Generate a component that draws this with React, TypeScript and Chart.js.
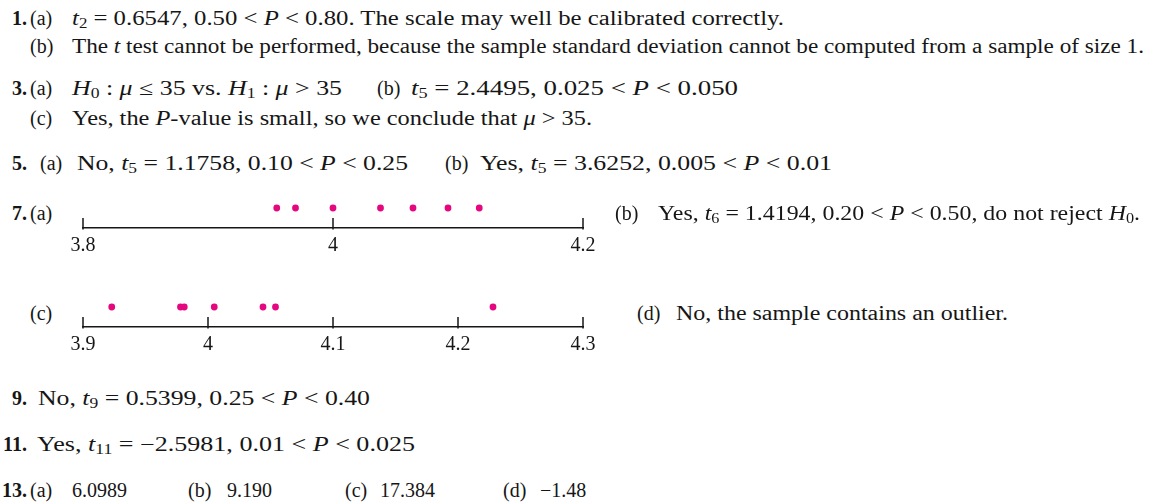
import React, { useEffect, useLayoutEffect, useRef } from "react";
import { Chart, registerables } from "chart.js";

Chart.register(...registerables);

// ---- Data ----
const plotAValues = [3.955, 3.97, 4.0, 4.038, 4.064, 4.092, 4.117];
const plotATicks = [3.8, 4.0, 4.2];
const plotATickLabels = ["3.8", "4", "4.2"];
const plotAMin = 3.8;
const plotAMax = 4.2;

const plotCValues = [3.923, 3.978, 3.981, 4.005, 4.044, 4.054, 4.228];
const plotCTicks = [3.9, 4.0, 4.1, 4.2, 4.3];
const plotCTickLabels = ["3.9", "4", "4.1", "4.2", "4.3"];
const plotCMin = 3.9;
const plotCMax = 4.3;

const DOT_LEVEL = 1;

// ---- Styles ----
const FONT = '"Liberation Serif", "Times New Roman", serif';
const INK = "#161616";
const PINK = "#e5077f";
const FS = 20;
const BASE = 16.75; // baseline offset inside a 20px line box

const tickMarks = {
  id: "tickMarks",
  afterDraw(chart: any) {
    const xs = chart.scales.x;
    const ctx = chart.ctx;
    const y0 = xs.top;
    ctx.save();
    ctx.strokeStyle = INK;
    ctx.lineWidth = 1.5;
    for (const t of xs.ticks) {
      const px = xs.getPixelForValue(t.value);
      ctx.beginPath();
      ctx.moveTo(px, y0 + 1.5);
      ctx.lineTo(px, y0 - 10);
      ctx.stroke();
    }
    ctx.restore();
  },
};

function DotPlot(props: {
  values: number[];
  ticks: number[];
  labels: string[];
  min: number;
  max: number;
  left: number;
  top: number;
}) {
  const ref = useRef<HTMLCanvasElement>(null);
  useEffect(() => {
    const canvas = ref.current;
    if (!canvas) return;
    const chart = new Chart(canvas, {
      type: "scatter",
      data: {
        datasets: [
          {
            data: props.values.map((v) => ({ x: v, y: DOT_LEVEL })),
            pointRadius: 3.4,
            pointHoverRadius: 3.4,
            backgroundColor: PINK,
            borderWidth: 0,
          },
        ],
      },
      options: {
        responsive: false,
        animation: false,
        devicePixelRatio: 1,
        events: [],
        layout: { padding: { left: 40, right: 40, top: 8, bottom: 5 } },
        plugins: { legend: { display: false }, tooltip: { enabled: false } },
        scales: {
          x: {
            type: "linear",
            min: props.min,
            max: props.max,
            afterBuildTicks: (s: any) => {
              s.ticks = props.ticks.map((v) => ({ value: v }));
            },
            ticks: {
              callback: (_v: any, i: number) => props.labels[i],
              color: INK,
              font: { family: FONT, size: FS },
              padding: 6,
              maxRotation: 0,
              autoSkip: false,
            },
            grid: { display: false, drawTicks: false },
            border: { display: true, color: INK, width: 1.5 },
          },
          y: { display: false, min: 0, max: 2 },
        },
      } as any,
      plugins: [tickMarks],
    });
    return () => chart.destroy();
  }, []);
  return (
    <canvas
      ref={ref}
      width={580}
      height={89}
      style={{ position: "absolute", left: props.left, top: props.top, width: 580, height: 89 }}
    />
  );
}

const I = ({ children }: any) => <i>{children}</i>;
const Sub = ({ children }: any) => (
  <sub style={{ fontSize: "0.68em", verticalAlign: "-0.25em", lineHeight: 0 }}>{children}</sub>
);

function Seg(props: { x: number; y: number; w?: number; end?: boolean; bold?: boolean; children: any }) {
  const ref = useRef<HTMLSpanElement>(null);
  useLayoutEffect(() => {
    const el = ref.current;
    if (!el || !props.w) return;
    const fit = () => {
      el.style.transform = "";
      const natural = el.getBoundingClientRect().width;
      if (natural > 0) el.style.transform = `scaleX(${props.w! / natural})`;
    };
    fit();
    if ((document as any).fonts) (document as any).fonts.ready.then(fit);
  }, [props.w]);
  return (
    <span
      ref={ref}
      style={{
        position: "absolute",
        left: props.end ? undefined : props.x,
        right: props.end ? 1155 - props.x : undefined,
        top: props.y - BASE,
        lineHeight: "20px",
        whiteSpace: "nowrap",
        fontWeight: props.bold ? 700 : 400,
        transformOrigin: "left center",
      }}
    >
      {props.children}
    </span>
  );
}

export default function App() {
  useEffect(() => {
    document.body.style.margin = "0";
  }, []);
  const NUM = 27;
  return (
    <div
      style={{
        position: "fixed",
        left: 0,
        top: 0,
        width: 1155,
        height: 504,
        background: "#fff",
        overflow: "hidden",
        fontFamily: FONT,
        fontSize: FS,
        color: INK,
      }}
    >
      {/* 1 */}
      <Seg x={NUM} y={25} end bold>1.</Seg>
      <Seg x={30} y={25}>(a)</Seg>
      <Seg x={72} y={25} w={712}>
        <I>t</I><Sub>2</Sub> = 0.6547, 0.50 &lt; <I>P</I> &lt; 0.80. The scale may well be calibrated correctly.
      </Seg>
      <Seg x={30} y={53}>(b)</Seg>
      <Seg x={72} y={53} w={1072}>
        The <I>t</I> test cannot be performed, because the sample standard deviation cannot be computed from a sample of size 1.
      </Seg>

      {/* 3 */}
      <Seg x={NUM} y={95} end bold>3.</Seg>
      <Seg x={30} y={95}>(a)</Seg>
      <Seg x={72} y={95} w={270}>
        <I>H</I><Sub>0</Sub> : <I>μ</I> ≤ 35 vs. <I>H</I><Sub>1</Sub> : <I>μ</I> &gt; 35
      </Seg>
      <Seg x={377} y={95}>(b)</Seg>
      <Seg x={411} y={95} w={327}>
        <I>t</I><Sub>5</Sub> = 2.4495, 0.025 &lt; <I>P</I> &lt; 0.050
      </Seg>
      <Seg x={30} y={125}>(c)</Seg>
      <Seg x={72} y={125} w={520}>
        Yes, the <I>P</I>-value is small, so we conclude that <I>μ</I> &gt; 35.
      </Seg>

      {/* 5 */}
      <Seg x={NUM} y={170} end bold>5.</Seg>
      <Seg x={40} y={170}>(a)</Seg>
      <Seg x={77} y={170} w={331}>
        No, <I>t</I><Sub>5</Sub> = 1.1758, 0.10 &lt; <I>P</I> &lt; 0.25
      </Seg>
      <Seg x={445} y={170}>(b)</Seg>
      <Seg x={480} y={170} w={352}>
        Yes, <I>t</I><Sub>5</Sub> = 3.6252, 0.005 &lt; <I>P</I> &lt; 0.01
      </Seg>

      {/* 7 */}
      <Seg x={NUM} y={220} end bold>7.</Seg>
      <Seg x={30} y={220}>(a)</Seg>
      <DotPlot
        values={plotAValues}
        ticks={plotATicks}
        labels={plotATickLabels}
        min={plotAMin}
        max={plotAMax}
        left={43}
        top={180}
      />
      <Seg x={615} y={220}>(b)</Seg>
      <Seg x={658} y={220} w={482}>
        Yes, <I>t</I><Sub>6</Sub> = 1.4194, 0.20 &lt; <I>P</I> &lt; 0.50, do not reject <I>H</I><Sub>0</Sub>.
      </Seg>

      <Seg x={30} y={320}>(c)</Seg>
      <DotPlot
        values={plotCValues}
        ticks={plotCTicks}
        labels={plotCTickLabels}
        min={plotCMin}
        max={plotCMax}
        left={43}
        top={279}
      />
      <Seg x={637} y={320}>(d)</Seg>
      <Seg x={676} y={320} w={332}>
        No, the sample contains an outlier.
      </Seg>

      {/* 9 */}
      <Seg x={NUM} y={405} end bold>9.</Seg>
      <Seg x={38} y={405} w={332}>
        No, <I>t</I><Sub>9</Sub> = 0.5399, 0.25 &lt; <I>P</I> &lt; 0.40
      </Seg>

      {/* 11 */}
      <Seg x={NUM} y={451} end bold>11.</Seg>
      <Seg x={37} y={451} w={378}>
        Yes, <I>t</I><Sub>11</Sub> = −2.5981, 0.01 &lt; <I>P</I> &lt; 0.025
      </Seg>

      {/* 13 */}
      <Seg x={NUM} y={497} end bold>13.</Seg>
      <Seg x={30} y={497}>(a)</Seg>
      <Seg x={72} y={497}>6.0989</Seg>
      <Seg x={188} y={497}>(b)</Seg>
      <Seg x={227} y={497}>9.190</Seg>
      <Seg x={345} y={497}>(c)</Seg>
      <Seg x={380} y={497}>17.384</Seg>
      <Seg x={503} y={497}>(d)</Seg>
      <Seg x={540} y={497}>−1.48</Seg>
    </div>
  );
}
